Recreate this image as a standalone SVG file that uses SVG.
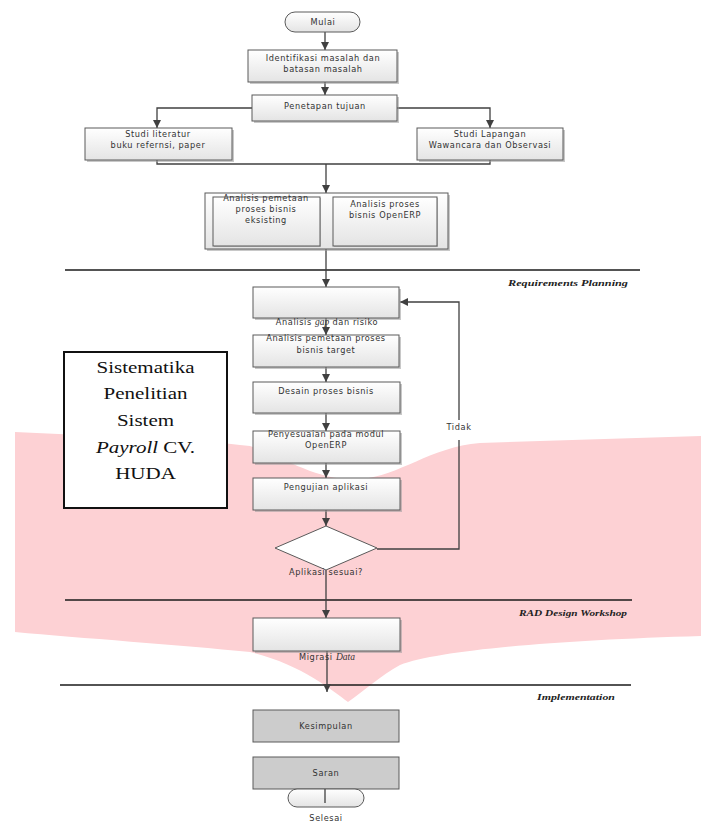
<svg xmlns="http://www.w3.org/2000/svg" width="701" height="823" viewBox="0 0 701 823">
<style>
.bx{stroke:#5a5a5a;stroke-width:1;fill:url(#g)}
.sh{fill:#9a9a9a;opacity:.55}
.gr{stroke:#5a5a5a;stroke-width:1;fill:#cccccc}
.t{font-family:"DejaVu Sans",Verdana,sans-serif;font-size:8.2px;letter-spacing:.6px;fill:#333;text-anchor:middle}
.it{font-family:"Liberation Serif","Times New Roman",serif;font-style:italic;letter-spacing:0}
.lab{font-family:"Liberation Serif","Times New Roman",serif;font-style:italic;font-weight:bold;font-size:9px;fill:#222}
.c{fill:none;stroke:#404040;stroke-width:1.3}
.sep{stroke:#1a1a1a;stroke-width:1.5}
.title{font-family:"Liberation Serif","Times New Roman",serif;font-size:17.5px;fill:#111;text-anchor:middle}
</style>
<defs>
<linearGradient id="g" x1="0" y1="0" x2="0" y2="1"><stop offset="0" stop-color="#ffffff"/><stop offset="1" stop-color="#e4e4e4"/></linearGradient>
<marker id="a" markerUnits="userSpaceOnUse" markerWidth="10" markerHeight="10" viewBox="0 0 10 10" refX="9" refY="5" orient="auto"><path d="M1,1 L9,5 L1,9 Z" fill="#404040"/></marker>
</defs>
<rect width="701" height="823" fill="#ffffff"/>
<path id="watermark" d="M15,432 C100,436 200,440 250,446 C290,460 320,482 360,479 C400,476 430,447 480,443 L701,436 L701,636 C560,640 440,650 400,665 C380,676 365,690 348,702 C332,690 300,664 250,652 C180,645 80,638 15,632 Z" fill="#fdd1d4"/>

<g id="separators">
<line class="sep" x1="65" y1="270" x2="640" y2="270"/>
<line class="sep" x1="65" y1="600" x2="632" y2="600"/>
<line class="sep" x1="60" y1="685" x2="631" y2="685"/>
<text class="lab" x="508" y="286" textLength="120" lengthAdjust="spacingAndGlyphs">Requirements Planning</text>
<text class="lab" x="519" y="616" textLength="108" lengthAdjust="spacingAndGlyphs">RAD Design  Workshop</text>
<text class="lab" x="537" y="700" textLength="78" lengthAdjust="spacingAndGlyphs">Implementation</text>
</g>

<g id="connectors">
<line class="c" x1="325" y1="32" x2="325" y2="50" marker-end="url(#a)"/>
<line class="c" x1="325" y1="82" x2="325" y2="95" marker-end="url(#a)"/>
<polyline class="c" points="252,108 157,108 157,128" marker-end="url(#a)"/>
<polyline class="c" points="397,108 490,108 490,128" marker-end="url(#a)"/>
<polyline class="c" points="157,160 157,164 490,164 490,160"/>
<line class="c" x1="326" y1="164" x2="326" y2="193" marker-end="url(#a)"/>
<line class="c" x1="326" y1="249" x2="326" y2="287" marker-end="url(#a)"/>
<line class="c" x1="326" y1="318" x2="326" y2="335" marker-end="url(#a)"/>
<line class="c" x1="326" y1="367" x2="326" y2="382" marker-end="url(#a)"/>
<line class="c" x1="326" y1="413" x2="326" y2="431" marker-end="url(#a)"/>
<line class="c" x1="326" y1="463" x2="326" y2="478" marker-end="url(#a)"/>
<line class="c" x1="326" y1="510" x2="326" y2="526" marker-end="url(#a)"/>
<line class="c" x1="326" y1="570" x2="326" y2="618" marker-end="url(#a)"/>
<line class="c" x1="327" y1="651" x2="327" y2="692" marker-end="url(#a)"/>
<polyline class="c" points="377,549 459,549 459,440"/>
<polyline class="c" points="459,420 459,302 400,302" marker-end="url(#a)"/>
<text class="t" x="459" y="430">Tidak</text>
<line class="c" x1="325" y1="789" x2="325" y2="803"/>
</g>

<g id="mulai">
<rect x="285" y="12" width="75" height="20" rx="10" class="bx"/>
<text class="t" x="323" y="25">Mulai</text>
</g>
<g id="identifikasi">
<rect x="250" y="52" width="149" height="32" class="sh"/>
<rect x="248" y="50" width="149" height="32" class="bx"/>
<text class="t" x="323" y="61">Identifikasi masalah dan</text>
<text class="t" x="323" y="72">batasan masalah</text>
</g>
<g id="penetapan">
<rect x="254" y="97" width="145" height="26" class="sh"/>
<rect x="252" y="95" width="145" height="26" class="bx"/>
<text class="t" x="325" y="109">Penetapan tujuan</text>
</g>
<g id="literatur">
<rect x="87" y="130" width="147" height="32" class="sh"/>
<rect x="85" y="128" width="147" height="32" class="bx"/>
<text class="t" x="158" y="137">Studi literatur</text>
<text class="t" x="158" y="148">buku refernsi, paper</text>
</g>
<g id="lapangan">
<rect x="419" y="130" width="146" height="32" class="sh"/>
<rect x="417" y="128" width="146" height="32" class="bx"/>
<text class="t" x="490" y="137">Studi Lapangan</text>
<text class="t" x="490" y="148">Wawancara dan Observasi</text>
</g>
<g id="analisis-group">
<rect x="207" y="195" width="243" height="56" class="sh"/>
<rect x="205" y="193" width="243" height="56" class="bx"/>
<rect x="214" y="198" width="107" height="49" class="sh"/>
<rect x="213" y="197" width="107" height="49" class="bx"/>
<rect x="334" y="198" width="104" height="49" class="sh"/>
<rect x="333" y="197" width="104" height="49" class="bx"/>
<text class="t" x="266" y="201">Analisis pemetaan</text>
<text class="t" x="266" y="212">proses bisnis</text>
<text class="t" x="266" y="223">eksisting</text>
<text class="t" x="385" y="207">Analisis proses</text>
<text class="t" x="385" y="218">bisnis OpenERP</text>
</g>
<g id="gap">
<rect x="255" y="289" width="146" height="31" class="sh"/>
<rect x="253" y="287" width="146" height="31" class="bx"/>
<text class="t" x="327" y="325">Analisis <tspan class="it" font-size="9.5">gap</tspan> dan risiko</text>
</g>
<g id="target">
<rect x="255" y="337" width="146" height="32" class="sh"/>
<rect x="253" y="335" width="146" height="32" class="bx"/>
<text class="t" x="326" y="341">Analisis pemetaan proses</text>
<text class="t" x="326" y="353">bisnis target</text>
</g>
<g id="desain">
<rect x="255" y="384" width="147" height="31" class="sh"/>
<rect x="253" y="382" width="147" height="31" class="bx"/>
<text class="t" x="326" y="394">Desain proses bisnis</text>
</g>
<g id="penyesuaian">
<rect x="255" y="433" width="147" height="32" class="sh"/>
<rect x="253" y="431" width="147" height="32" class="bx"/>
<text class="t" x="326" y="437">Penyesuaian pada modul</text>
<text class="t" x="326" y="448">OpenERP</text>
</g>
<g id="pengujian">
<rect x="255" y="480" width="147" height="32" class="sh"/>
<rect x="253" y="478" width="147" height="32" class="bx"/>
<text class="t" x="326" y="490">Pengujian aplikasi</text>
</g>
<g id="keputusan">
<polygon points="326,526 377,548 326,570 275,548" fill="#ffffff" stroke="#5a5a5a" stroke-width="1"/>
<text class="t" x="326" y="575">Aplikasi sesuai?</text>
</g>
<g id="migrasi">
<rect x="255" y="620" width="147" height="33" class="sh"/>
<rect x="253" y="618" width="147" height="33" class="bx"/>
<text class="t" x="327" y="660">Migrasi <tspan class="it" font-size="9.5">Data</tspan></text>
</g>
<g id="kesimpulan">
<rect x="253" y="710" width="146" height="32" class="gr"/>
<text class="t" x="326" y="729">Kesimpulan</text>
</g>
<g id="saran">
<rect x="253" y="757" width="146" height="32" class="gr"/>
<text class="t" x="326" y="776">Saran</text>
</g>
<g id="selesai">
<rect x="288" y="789" width="76" height="18" rx="9" class="bx"/>
<line class="c" x1="325" y1="789" x2="325" y2="803"/>
<text class="t" x="326" y="821">Selesai</text>
</g>
<g id="judul">
<rect x="64" y="352" width="163" height="156" fill="#ffffff" stroke="#111" stroke-width="2"/>
<g transform="translate(145.5,0) scale(1.2,1)">
<text class="title" x="0" y="373">Sistematika</text>
<text class="title" x="0" y="399">Penelitian</text>
<text class="title" x="0" y="426">Sistem</text>
<text class="title" x="0" y="453"><tspan font-style="italic">Payroll</tspan> CV.</text>
<text class="title" x="0" y="479">HUDA</text>
</g>
</g>
</svg>
